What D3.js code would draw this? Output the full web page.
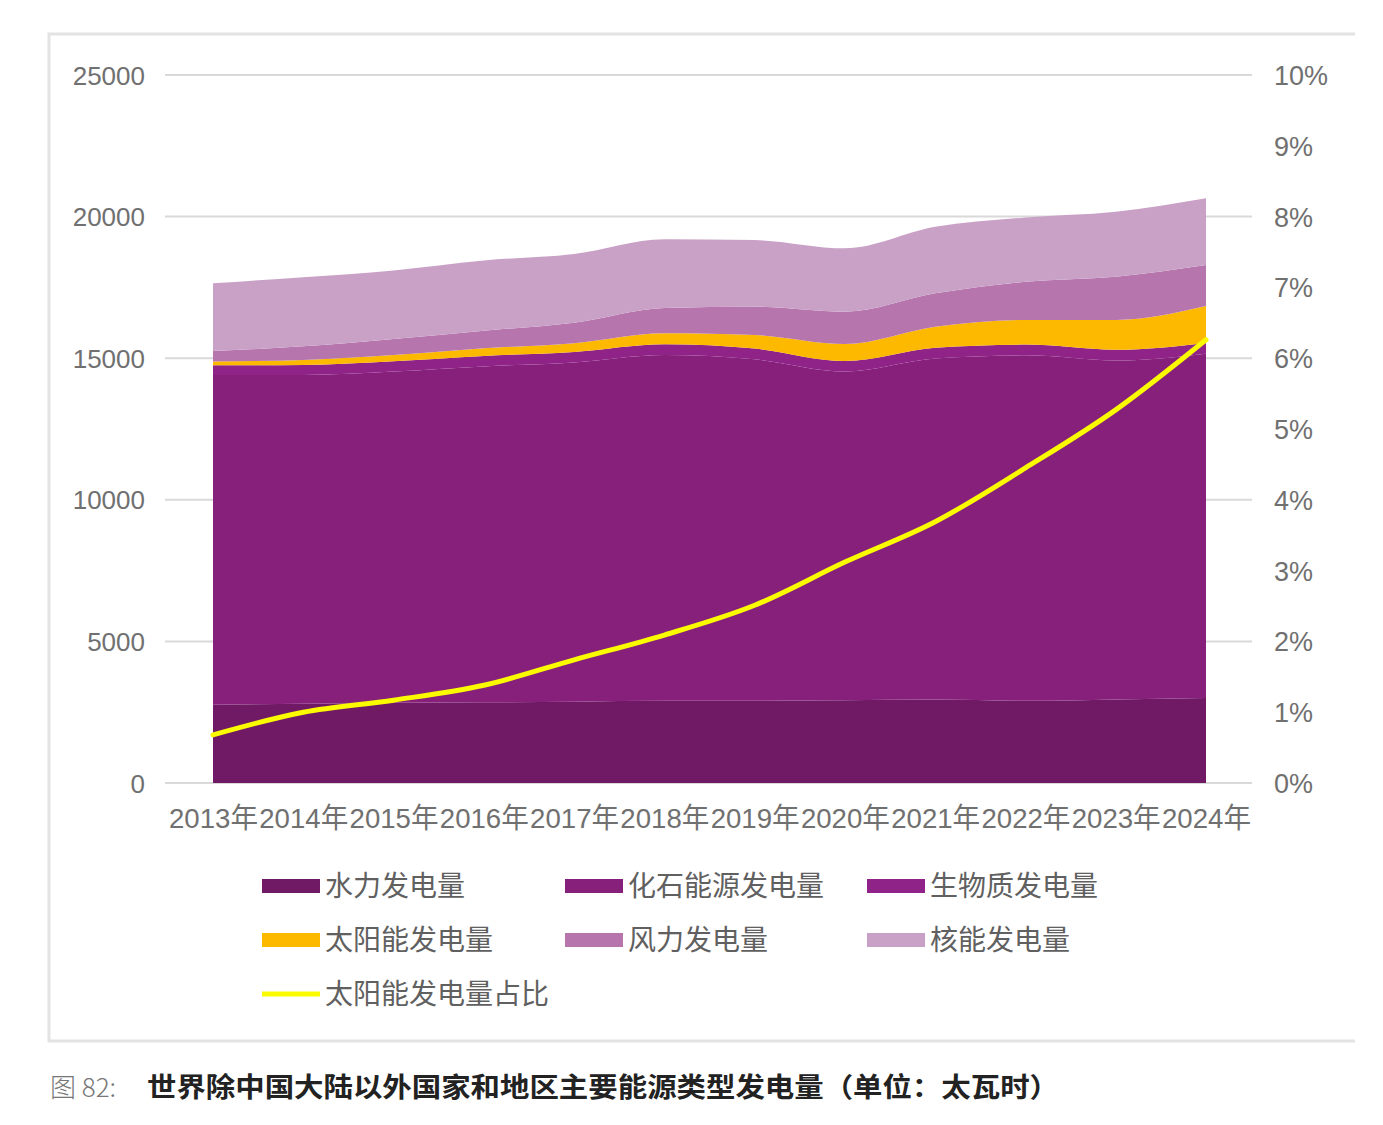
<!DOCTYPE html>
<html><head><meta charset="utf-8">
<script src="https://cdn.jsdelivr.net/npm/d3@7/dist/d3.min.js"></script>
<style>
html,body{margin:0;padding:0;background:#fff;}
svg{display:block;}
</style></head>
<body>
<svg id="chart" width="1383" height="1125"></svg>
<script>
const years = ["2013年","2014年","2015年","2016年","2017年","2018年","2019年","2020年","2021年","2022年","2023年","2024年"];
const hydro   = [2760, 2800, 2830, 2850, 2870, 2900, 2900, 2920, 2950, 2900, 2950, 3000];
const fossil  = [11650, 11610, 11700, 11860, 11980, 12210, 12060, 11610, 12040, 12200, 11970, 12160];
const biomass = [340, 350, 360, 370, 370, 380, 380, 370, 380, 380, 380, 380];
const solar   = [130, 180, 220, 270, 310, 390, 480, 600, 740, 870, 1050, 1300];
const wind    = [370, 480, 570, 620, 720, 890, 1000, 1140, 1180, 1350, 1530, 1450];
const nuclear = [2400, 2440, 2420, 2480, 2430, 2430, 2350, 2240, 2350, 2270, 2290, 2360];
const solarShare = [0.68, 1.00, 1.17, 1.38, 1.74, 2.09, 2.51, 3.12, 3.69, 4.45, 5.27, 6.26];
const leftTicks = [0, 5000, 10000, 15000, 20000, 25000];
const rightTicks = [0,1,2,3,4,5,6,7,8,9,10];
const seriesNames = ["水力发电量","化石能源发电量","生物质发电量","太阳能发电量","风力发电量","核能发电量"];
const lineName = "太阳能发电量占比";
const colors = ["#701a66","#86207b","#902388","#fcb900","#b676ad","#c9a1c6"];
const lineColor = "#fafa00";
const captionPrefix = "图 82:";
const captionTitle = "世界除中国大陆以外国家和地区主要能源类型发电量（单位：太瓦时）";

const svg = d3.select("#chart");
const fontNum = "'Liberation Sans', Arial, 'Noto Sans CJK SC', sans-serif";

// frame (open on the right)
svg.append("path").attr("d","M1355,34 H49 V1041 H1355")
  .attr("fill","none").attr("stroke","#e3e3e3").attr("stroke-width",3);

const keys = seriesNames;
const table = years.map((y,i)=>({year:y, [keys[0]]:hydro[i], [keys[1]]:fossil[i], [keys[2]]:biomass[i], [keys[3]]:solar[i], [keys[4]]:wind[i], [keys[5]]:nuclear[i]}));

const x = d3.scalePoint().domain(years).range([213,1206]);
const y = d3.scaleLinear().domain([0,25000]).range([783,75]);
const y2 = d3.scaleLinear().domain([0,10]).range([783,75]);

// gridlines
svg.append("g").selectAll("line").data(leftTicks).join("line")
  .attr("x1",165).attr("x2",1252).attr("y1",d=>y(d)).attr("y2",d=>y(d))
  .attr("stroke","#d9d9d9").attr("stroke-width",2);

const stack = d3.stack().keys(keys);
const stacked = stack(table);
const area = d3.area().x(d=>x(d.data.year)).y0(d=>y(d[0])).y1(d=>y(d[1])).curve(d3.curveMonotoneX);
svg.append("g").selectAll("path").data(stacked).join("path")
  .attr("d",area).attr("fill",(d,i)=>colors[i]);

// line
const line = d3.line().x((d,i)=>x(years[i])).y(d=>y2(d)).curve(d3.curveMonotoneX);
svg.append("path").datum(solarShare).attr("d",line)
  .attr("fill","none").attr("stroke",lineColor).attr("stroke-width",5).attr("stroke-linecap","round");

// left axis
const yAxis = d3.axisLeft(y).tickValues(leftTicks).tickSize(0).tickPadding(0).tickFormat(d3.format("d"));
const gL = svg.append("g").attr("transform","translate(145,0)").call(yAxis);
gL.select(".domain").remove();
gL.selectAll("text").attr("font-family",fontNum).attr("font-size",26).attr("fill","#707070").attr("dy","0.35em");

// right axis
const yAxisR = d3.axisRight(y2).tickValues(rightTicks).tickSize(0).tickPadding(0).tickFormat(d=>d+"%");
const gR = svg.append("g").attr("transform","translate(1274,0)").call(yAxisR);
gR.select(".domain").remove();
gR.selectAll("text").attr("font-family",fontNum).attr("font-size",27).attr("fill","#707070").attr("dy","0.35em");

// x axis
const xAxis = d3.axisBottom(x).tickSize(0).tickPadding(0);
const gX = svg.append("g").attr("transform","translate(0,807)").call(xAxis);
gX.select(".domain").remove();
gX.selectAll("text").attr("font-family",fontNum).attr("font-size",28).attr("fill","#707070")
  .attr("dy","0.75em").attr("textLength",89).attr("lengthAdjust","spacingAndGlyphs");

// legend
const legendItems = seriesNames.map((n,i)=>({name:n,color:colors[i],type:"rect"}));
legendItems.push({name:lineName,color:lineColor,type:"line"});
const colX = [262,565,867], rowY = [886,940,994];
const lg = svg.append("g").selectAll("g").data(legendItems).join("g")
  .attr("transform",(d,i)=>`translate(${colX[i%3]},${rowY[Math.floor(i/3)]})`);
lg.append("rect").attr("x",0).attr("y",d=>d.type==="rect"?-7:-2.5).attr("width",58)
  .attr("height",d=>d.type==="rect"?14:5).attr("fill",d=>d.color);
lg.append("text").attr("x",63).attr("y",0).attr("dy","0.36em").text(d=>d.name)
  .attr("font-family","'Noto Sans CJK SC', sans-serif").attr("font-size",28).attr("fill","#606060");

// caption
const cap = svg.append("text").attr("x",50).attr("y",1097).attr("font-family","'Noto Sans CJK SC', sans-serif");
cap.append("tspan").text(captionPrefix).attr("font-size",26).attr("fill","#777").attr("font-weight",300);
svg.append("text").attr("x",147).attr("y",1097).attr("font-family","'Noto Sans CJK SC', sans-serif")
  .attr("font-size",27).attr("font-weight",700).attr("fill","#222")
  .attr("textLength",912).attr("lengthAdjust","spacingAndGlyphs").text(captionTitle);
</script>
</body></html>
